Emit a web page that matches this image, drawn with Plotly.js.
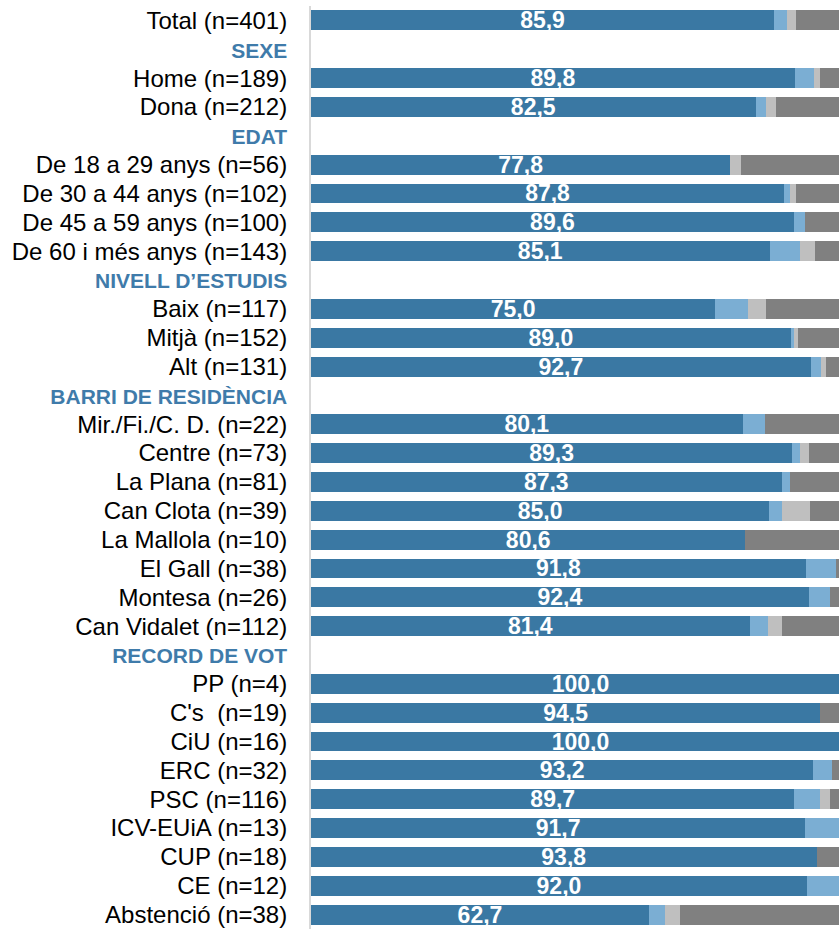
<!DOCTYPE html>
<html>
<head>
<meta charset="utf-8">
<script src="https://cdn.plot.ly/plotly-3.0.1.min.js"></script>
<style>
html,body{margin:0;padding:0;overflow:hidden;background:#fff;}
#chart{width:860px;height:935px;}
</style>
</head>
<body>
<div id="chart"></div>
<script>
const categories = [
  'Total (n=401)',
  'SEXE',
  'Home (n=189)',
  'Dona (n=212)',
  'EDAT',
  'De 18 a 29 anys (n=56)',
  'De 30 a 44 anys (n=102)',
  'De 45 a 59 anys (n=100)',
  'De 60 i més anys (n=143)',
  'NIVELL D’ESTUDIS',
  'Baix (n=117)',
  'Mitjà (n=152)',
  'Alt (n=131)',
  'BARRI DE RESIDÈNCIA',
  'Mir./Fi./C. D. (n=22)',
  'Centre (n=73)',
  'La Plana (n=81)',
  'Can Clota (n=39)',
  'La Mallola (n=10)',
  'El Gall (n=38)',
  'Montesa (n=26)',
  'Can Vidalet (n=112)',
  'RECORD DE VOT',
  'PP (n=4)',
  "C's  (n=19)",
  'CiU (n=16)',
  'ERC (n=32)',
  'PSC (n=116)',
  'ICV-EUiA (n=13)',
  'CUP (n=18)',
  'CE (n=12)',
  'Abstenció (n=38)'
];
const headers = ['SEXE','EDAT','NIVELL D’ESTUDIS','BARRI DE RESIDÈNCIA','RECORD DE VOT'];

// Segment 1 (dark blue, labelled)
const seg1 = [85.9,null,89.8,82.5,null,77.8,87.8,89.6,85.1,null,75.0,89.0,92.7,null,80.1,89.3,87.3,85.0,80.6,91.8,92.4,81.4,null,100.0,94.5,100.0,93.2,89.7,91.7,93.8,92.0,62.7];
// Segment 2 (light blue)
const seg2 = [2.5,null,3.5,1.9,null,0,1.1,2.0,5.7,null,6.1,0.6,2.0,null,4.1,1.4,1.5,2.4,0,5.6,3.8,3.4,null,0,0,0,3.4,4.8,8.3,0,8.0,3.0];
// Segment 3 (light grey)
const seg3 = [1.6,null,1.1,1.8,null,2.0,1.0,0,2.7,null,3.3,0.7,0.8,null,0,1.6,0,5.1,0,0,0,2.6,null,0,0,0,0,1.7,0,0,0,2.7];
// Segment 4 (dark grey)
const seg4 = [10.0,null,5.6,13.8,null,20.2,10.1,8.4,6.5,null,15.6,9.7,4.5,null,15.8,7.7,11.2,7.5,19.4,2.6,3.8,12.6,null,0,5.5,0,3.4,3.8,0,6.2,0,31.6];

const colors = ['#3A78A3','#7BAED3','#BFBFBF','#808080'];
const segs = [seg1,seg2,seg3,seg4];

const fmt = v => (v === null || v === undefined) ? '' : v.toFixed(1).replace('.', ',');

const traces = segs.map((s, i) => ({
  type: 'bar',
  orientation: 'h',
  y: categories,
  x: s,
  marker: {color: colors[i], line: {width: 0}},
  text: i === 0 ? s.map(fmt) : undefined,
  textposition: i === 0 ? 'inside' : 'none',
  insidetextanchor: 'middle',
  constraintext: 'none',
  textfont: {color: '#FFFFFF', size: 23, family: 'Liberation Sans, Arial, sans-serif', weight: 'bold'},
  hoverinfo: 'skip',
  showlegend: false
}));

const ticktext = categories.map(c => headers.includes(c)
  ? '<b><span style="color:#3F7BAA;font-size:21px">' + c + '</span></b>'
  : c);

const layout = {
  width: 860,
  height: 935,
  margin: {l: 311, r: 10, t: 6, b: 6},
  barmode: 'stack',
  bargap: 0.31,
  paper_bgcolor: '#ffffff',
  plot_bgcolor: '#ffffff',
  font: {family: 'Liberation Sans, Arial, sans-serif', color: '#000000', size: 24},
  xaxis: {
    range: [0, 100],
    showgrid: false,
    zeroline: false,
    showticklabels: false,
    showline: false,
    fixedrange: true
  },
  yaxis: {
    type: 'category',
    categoryorder: 'array',
    categoryarray: categories,
    tickvals: categories,
    ticktext: ticktext,
    autorange: 'reversed',
    showgrid: false,
    zeroline: false,
    showline: true,
    linecolor: '#D9D9D9',
    linewidth: 2,
    ticks: 'outside',
    ticklen: 17,
    tickcolor: 'rgba(0,0,0,0)',
    tickfont: {size: 24, color: '#000000', family: 'Liberation Sans, Arial, sans-serif'},
    fixedrange: true
  }
};

Plotly.newPlot('chart', traces, layout, {displayModeBar: false, staticPlot: true});
</script>
</body>
</html>
